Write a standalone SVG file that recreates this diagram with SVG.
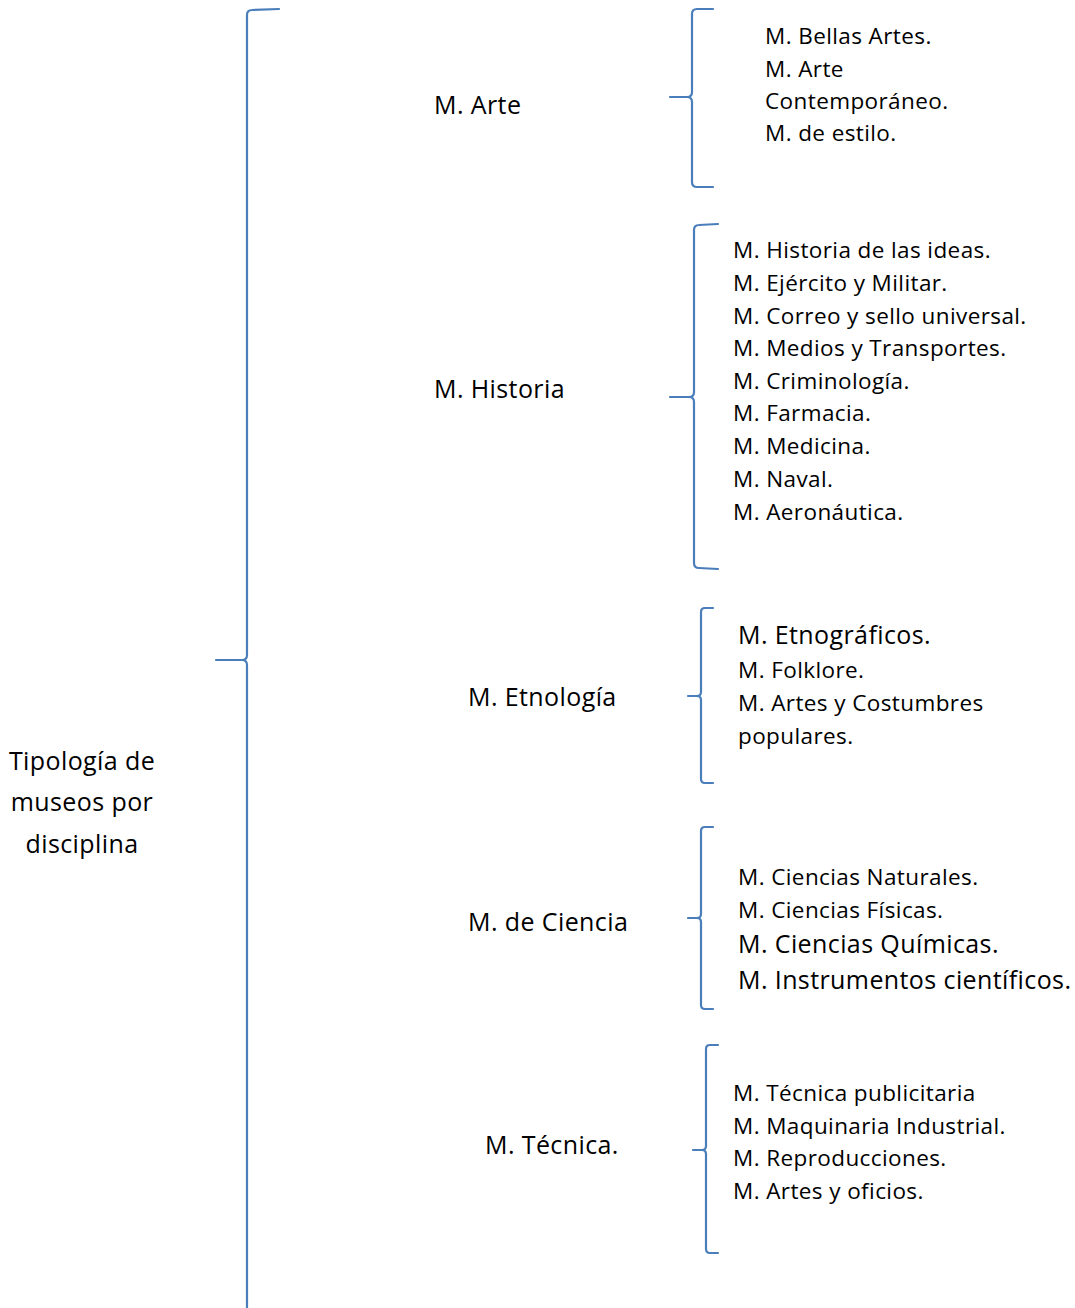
<svg xmlns="http://www.w3.org/2000/svg" width="1075" height="1308" viewBox="0 0 1075 1308">
  <style>
    .brace { fill: none; stroke: #4a7ebb; stroke-width: 2.2; stroke-linejoin: round; stroke-linecap: round; }
    text { font-family: "Open Sans", Lato, "Liberation Sans", sans-serif; fill: #000; font-size: 22.5px; letter-spacing: 0.4px; font-variant-ligatures: none; }
    .big { font-size: 25px; }
    .lg { font-size: 25px; }
    .root { font-size: 25px; text-anchor: middle; }
  </style>
  <rect width="1075" height="1308" fill="#fff"/>

  <g id="connectors">
    <!-- main brace -->
    <path class="brace" d="M279,9 L252,10 Q247,10 247,15 L247,655 Q247,660 242,660 L216,660 M242,660 Q247,660 247,665 L247,1310"/>
    <!-- arte -->
    <path class="brace" d="M713,9 L697,9 Q692,9 692,14 L692,92 Q692,97 687,97 L670,97 M687,97 Q692,97 692,102 L692,182 Q692,187 697,187 L713,187"/>
    <!-- historia -->
    <path class="brace" d="M718,224 L699,225 Q694,225 694,230 L694,392 Q694,397 689,397 L670,397 M689,397 Q694,397 694,402 L694,563 Q694,568 699,568 L718,569"/>
    <!-- etnologia -->
    <path class="brace" d="M713,608 L705,608 Q701,608 701,612 L701,692 Q701,696 697,696 L688,696 M697,696 Q701,696 701,700 L701,779 Q701,783 705,783 L713,783"/>
    <!-- ciencia -->
    <path class="brace" d="M713,827 L705,827 Q701,827 701,831 L701,914 Q701,918 697,918 L688,918 M697,918 Q701,918 701,922 L701,1005 Q701,1009 705,1009 L713,1009"/>
    <!-- tecnica -->
    <path class="brace" d="M718,1045 L710,1045 Q706,1045 706,1049 L706,1146 Q706,1150 702,1150 L693,1150 M702,1150 Q706,1150 706,1154 L706,1249 Q706,1253 710,1253 L718,1253"/>
  </g>

  <g id="root">
    <text class="root" x="82" y="770">Tipología de</text>
    <text class="root" x="82" y="811">museos por</text>
    <text class="root" x="82" y="853">disciplina</text>
  </g>

  <g id="arte">
    <text class="big" x="434" y="114">M. Arte</text>
  </g>
  <g id="arte-items">
    <text x="765" y="44">M. Bellas Artes.</text>
    <text x="765" y="77">M. Arte</text>
    <text x="765" y="109">Contemporáneo.</text>
    <text x="765" y="141">M. de estilo.</text>
  </g>

  <g id="historia">
    <text class="big" x="434" y="398">M. Historia</text>
  </g>
  <g id="historia-items">
    <text x="733" y="258">M. Historia de las ideas.</text>
    <text x="733" y="291">M. Ejército y Militar.</text>
    <text x="733" y="324">M. Correo y sello universal.</text>
    <text x="733" y="356">M. Medios y Transportes.</text>
    <text x="733" y="389">M. Criminología.</text>
    <text x="733" y="421">M. Farmacia.</text>
    <text x="733" y="454">M. Medicina.</text>
    <text x="733" y="487">M. Naval.</text>
    <text x="733" y="520">M. Aeronáutica.</text>
  </g>

  <g id="etnologia">
    <text class="big" x="468" y="706">M. Etnología</text>
  </g>
  <g id="etnologia-items">
    <text class="lg" x="738" y="644">M. Etnográficos.</text>
    <text x="738" y="678">M. Folklore.</text>
    <text x="738" y="711">M. Artes y Costumbres</text>
    <text x="738" y="744">populares.</text>
  </g>

  <g id="ciencia">
    <text class="big" x="468" y="931">M. de Ciencia</text>
  </g>
  <g id="ciencia-items">
    <text x="738" y="885">M. Ciencias Naturales.</text>
    <text x="738" y="918">M. Ciencias Físicas.</text>
    <text class="lg" x="738" y="953">M. Ciencias Químicas.</text>
    <text class="lg" x="738" y="989">M. Instrumentos científicos.</text>
  </g>

  <g id="tecnica">
    <text class="big" x="485" y="1154">M. Técnica.</text>
  </g>
  <g id="tecnica-items">
    <text x="733" y="1101">M. Técnica publicitaria</text>
    <text x="733" y="1134">M. Maquinaria Industrial.</text>
    <text x="733" y="1166">M. Reproducciones.</text>
    <text x="733" y="1199">M. Artes y oficios.</text>
  </g>
</svg>
